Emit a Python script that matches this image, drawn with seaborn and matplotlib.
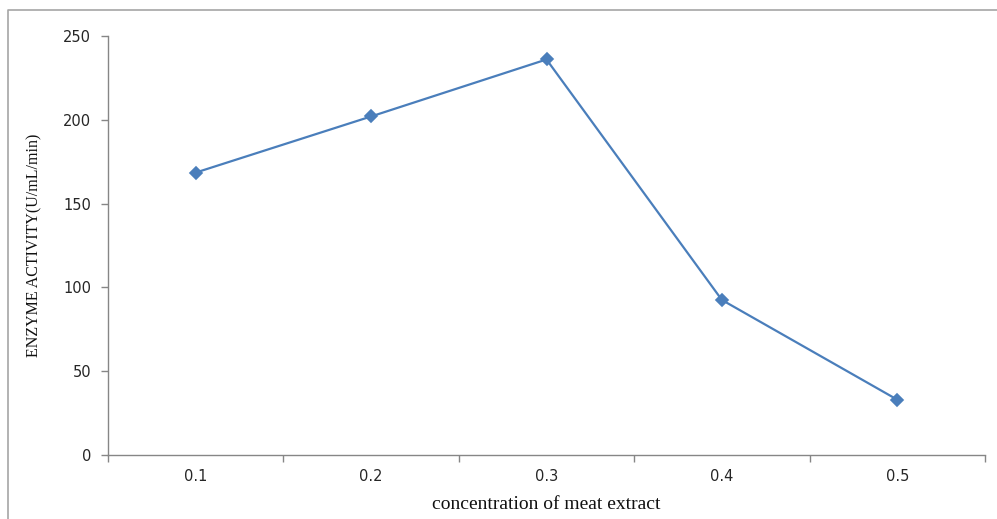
import matplotlib
matplotlib.use("Agg")
import matplotlib.pyplot as plt
from matplotlib.lines import Line2D
import seaborn as sns
import pandas as pd

concentrations = ["0.1", "0.2", "0.3", "0.4", "0.5"]
activity = [168.5, 202, 236, 92.5, 33]
y_ticks = [0, 50, 100, 150, 200, 250]

df = pd.DataFrame({"conc": concentrations, "activity": activity})

sns.set_theme(style="white")
plt.rcParams["font.family"] = ["DejaVu Sans"]

fig = plt.figure(figsize=(9.97, 5.19), dpi=100)
ax = fig.add_axes([108/997, 1-455/519, (985-108)/997, (455-36)/519])

line_color = "#4A7EBB"
sns.pointplot(data=df, x="conc", y="activity", order=concentrations, ax=ax,
              color=line_color, markers="D", linestyles="-",
              linewidth=1.6, markersize=6.5, errorbar=None)

ax.set_xlim(-0.5, len(concentrations) - 0.5)
ax.set_ylim(0, 250)
ax.set_yticks(y_ticks)
ax.set_yticklabels([str(v) for v in y_ticks])

ax.set_xticks(range(len(concentrations)))
ax.set_xticklabels(concentrations)
ax.set_xticks([i - 0.5 for i in range(len(concentrations) + 1)], minor=True)

spine_color = "#868686"
for s in ["top", "right"]:
    ax.spines[s].set_visible(False)
for s in ["left", "bottom"]:
    ax.spines[s].set_color(spine_color)
    ax.spines[s].set_linewidth(1.0)

tick_font = dict(labelsize=10.5, labelcolor="#262626")
ax.tick_params(axis="x", which="major", length=0, pad=10, **tick_font)
ax.tick_params(axis="x", which="minor", length=5, width=1, color=spine_color, bottom=True)
ax.tick_params(axis="y", which="major", length=5, width=1, color=spine_color, left=True,
               pad=7, **tick_font)

ax.set_xlabel("concentration of meat extract", family=["Liberation Serif"], fontsize=14,
              color="#111111", labelpad=9)
ax.set_ylabel("ENZYME ACTIVITY(U/mL/min)", family=["Liberation Serif"], fontsize=11.5,
              color="#111111", labelpad=15)
ax.grid(False)

border_color = "#A6A6A6"
fig.add_artist(Line2D([8/997, 8/997, 1.0], [0.0, 1-10/519, 1-10/519],
                      transform=fig.transFigure, color=border_color, linewidth=1.2))

fig.savefig("out.png", dpi=100)
